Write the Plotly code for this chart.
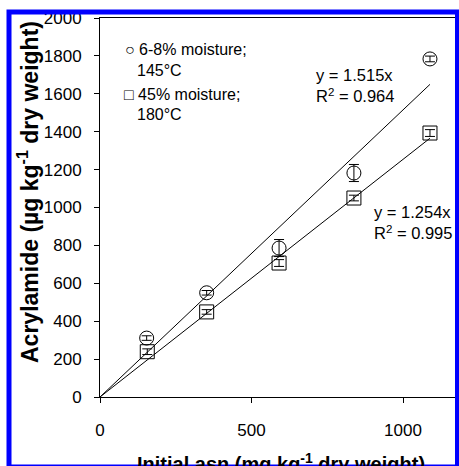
import plotly.graph_objects as go

# Data
asn_low = [154, 352, 591, 838, 1089]          # 6-8% moisture; 145°C
acr_low = [311, 550, 786, 1182, 1784]
err_low = [12, 12, 45, 45, 15]

asn_high = [156, 352, 591, 838, 1089]         # 45% moisture; 180°C
acr_high = [239, 449, 707, 1050, 1393]
err_high = [15, 12, 18, 15, 18]

slope_low = 1.515
slope_high = 1.254
r2_low = 0.964
r2_high = 0.995

y_ticks = [0, 200, 400, 600, 800, 1000, 1200, 1400, 1600, 1800, 2000]
x_ticks = [0, 500, 1000]

FONT = "Liberation Sans, Arial, sans-serif"

fig = go.Figure()

# fitted lines through origin
for xs, s in ((asn_low, slope_low), (asn_high, slope_high)):
    xe = max(xs)
    fig.add_trace(go.Scatter(x=[0, xe], y=[0, s * xe], mode="lines",
                             line=dict(color="black", width=1),
                             showlegend=False, hoverinfo="skip"))

fig.add_trace(go.Scatter(
    x=asn_low, y=acr_low, mode="markers", name="6-8% moisture; 145°C",
    marker=dict(symbol="circle-open", size=14, color="black", line=dict(width=1)),
    error_y=dict(type="data", array=err_low, color="black", thickness=1, width=5),
    showlegend=False))
fig.add_trace(go.Scatter(
    x=asn_high, y=acr_high, mode="markers", name="45% moisture; 180°C",
    marker=dict(symbol="square-open", size=14, color="black", line=dict(width=1)),
    error_y=dict(type="data", array=err_high, color="black", thickness=1, width=5),
    showlegend=False))

# plot area px: x 100..455, y 18..397
L, R, T, B = 100, 455, 18, 397
W, H = R - L, B - T
def px(x): return (x - L) / W
def py(y): return (B - y) / H

ann = []
# legend-like text
ann.append(dict(x=px(123), y=py(50), xref="paper", yref="paper", xanchor="left", yanchor="middle",
                text="○ 6-8% moisture;", showarrow=False, font=dict(size=16, family=FONT, color="black")))
ann.append(dict(x=px(135), y=py(70), xref="paper", yref="paper", xanchor="left", yanchor="middle",
                text="145°C", showarrow=False, font=dict(size=16, family=FONT, color="black")))
ann.append(dict(x=px(122), y=py(94), xref="paper", yref="paper", xanchor="left", yanchor="middle",
                text="□ 45% moisture;", showarrow=False, font=dict(size=16, family=FONT, color="black")))
ann.append(dict(x=px(135), y=py(114), xref="paper", yref="paper", xanchor="left", yanchor="middle",
                text="180°C", showarrow=False, font=dict(size=16, family=FONT, color="black")))
# equations
ann.append(dict(x=px(314), y=py(86), xref="paper", yref="paper", xanchor="left", yanchor="middle",
                text=f"y = {slope_low}x<br>R<sup>2</sup> = {r2_low}", align="left", showarrow=False,
                font=dict(size=16.5, family=FONT, color="black")))
ann.append(dict(x=px(372), y=py(222), xref="paper", yref="paper", xanchor="left", yanchor="middle",
                text=f"y = {slope_high}x<br>R<sup>2</sup> = {r2_high}", align="left", showarrow=False,
                font=dict(size=16.5, family=FONT, color="black")))
# axis titles
ann.append(dict(x=px(281), y=py(462), xref="paper", yref="paper", xanchor="center", yanchor="middle",
                text="<b>Initial asn (mg kg<sup>-1</sup> dry weight)</b>", showarrow=False,
                font=dict(size=20, family=FONT, color="black")))
ann.append(dict(x=px(28), y=py(192), xref="paper", yref="paper", xanchor="center", yanchor="middle",
                text="<b>Acrylamide (µg kg<sup>-1</sup> dry weight)</b>", textangle=-90, showarrow=False,
                font=dict(size=23, family=FONT, color="black")))

shapes = [dict(type="rect", xref="paper", yref="paper",
               x0=px(9), x1=px(457.5), y0=py(467), y1=py(12),
               line=dict(color="#0000FF", width=5), layer="above")]

fig.update_layout(
    width=459, height=466,
    margin=dict(l=L, r=459 - R, t=T, b=466 - B),
    paper_bgcolor="white", plot_bgcolor="white",
    font=dict(family=FONT, color="black"),
    annotations=ann, shapes=shapes,
    xaxis=dict(range=[0, W / 0.303], tickvals=x_ticks, ticks="outside", ticklen=5,
               tickcolor="black", showline=True, linecolor="black", linewidth=1,
               mirror=True, showgrid=False, zeroline=False,
               tickfont=dict(size=17, color="black"), ticklabelstandoff=13),
    yaxis=dict(range=[0, 2000], tickvals=y_ticks, ticks="outside", ticklen=5,
               tickcolor="black", showline=True, linecolor="black", linewidth=1,
               mirror=True, showgrid=False, zeroline=False,
               tickfont=dict(size=17, color="black"), ticklabelstandoff=9),
)

fig.write_html("out.html")
